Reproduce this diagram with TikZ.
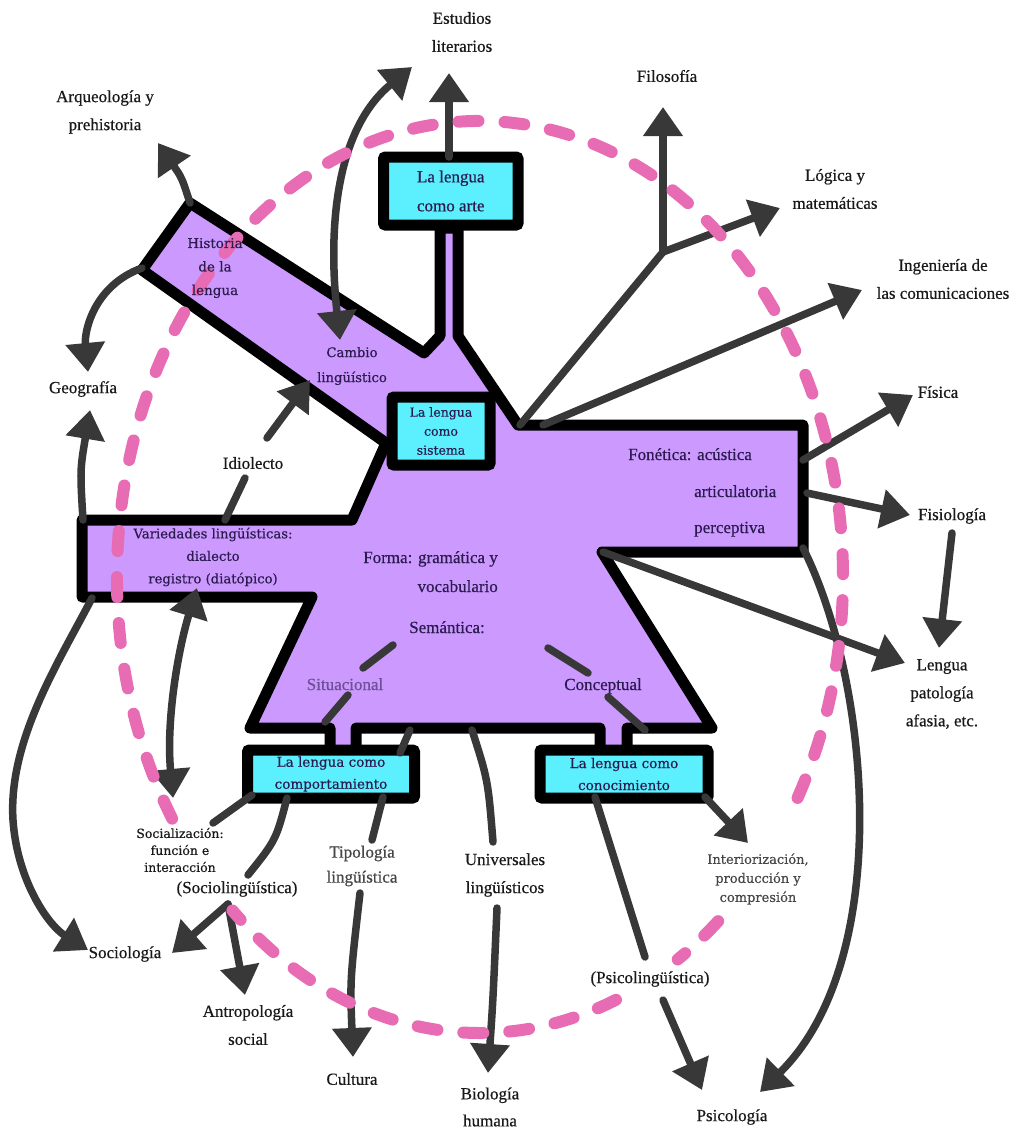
\documentclass[tikz,border=0pt]{standalone}
\usepackage{fontspec}
\setmainfont{Liberation Serif}[FakeBold=0.5]
\newfontfamily\widefont{DejaVu Serif}[FakeBold=0.4]
\usetikzlibrary{arrows.meta}
\definecolor{lilac}{RGB}{204,153,255}
\definecolor{boxcyan}{RGB}{92,240,255}
\definecolor{linegray}{RGB}{56,56,56}
\definecolor{pinkc}{RGB}{232,108,180}
\definecolor{navy}{RGB}{43,27,79}
\definecolor{situ}{RGB}{110,80,150}
\definecolor{txtgray}{RGB}{70,70,70}
\definecolor{txtblack}{RGB}{25,25,25}
\begin{document}
\begin{tikzpicture}[x=1pt,y=-1pt,
  font=\fontsize{17}{28}\selectfont,
  conn/.style={draw=linegray, line width=7.5pt, line cap=round},
  arr/.style={conn, -{Triangle[width=38pt,length=29pt]}},
  arrboth/.style={conn, {Triangle[width=38pt,length=29pt]}-{Triangle[width=38pt,length=29pt]}},
  mainshape/.style={fill=lilac, draw=black, line width=11pt, line join=round},
  box/.style={draw=black, fill=boxcyan, line width=11pt, rounded corners=2pt, inner sep=0pt, align=center, text=navy},
  lab/.style={align=center, inner sep=0pt, text=txtblack},
  inlab/.style={align=center, inner sep=0pt, text=navy},
  smallwide/.style={align=center, inner sep=0pt, font=\widefont\fontsize{12.5}{17}\selectfont},
  pinkdash/.style={draw=pinkc, line width=12pt, line cap=round, dash pattern=on 20pt off 26pt}
]
\fill[white] (0,0) rectangle (1012,1128);
\useasboundingbox (0,0) rectangle (1012,1128);

% ---------- main shape ----------
\draw[mainshape] (440,228) -- (440,336) -- (424,353) -- (190,203) -- (142,270) -- (386,443)
  -- (352,520) -- (82,520) -- (82,597) -- (312,597) -- (250,728) -- (330,728) -- (330,752)
  -- (356,752) -- (356,728) -- (600,728) -- (600,752) -- (627,752) -- (627,728) -- (712,728)
  -- (602,552) -- (803,552) -- (803,425) -- (518,425) -- (458,336) -- (458,228) -- cycle;

% ---------- boxes ----------
\node[box, minimum width=134.5pt, minimum height=68pt, font=\fontsize{17}{29}\selectfont] (arte) at (450.75,191) {La lengua\\como arte};
\node[box, minimum width=98pt, minimum height=68pt, font=\widefont\fontsize{12.5}{19}\selectfont] (sist) at (441,431) {La lengua\\como\\sistema};
\node[box, minimum width=167pt, minimum height=48pt, font=\widefont\fontsize{13.5}{22}\selectfont] (comp) at (331,774) {La lengua como\\comportamiento};
\node[box, minimum width=168pt, minimum height=48pt, font=\widefont\fontsize{13.5}{22}\selectfont] (conoc) at (624,774) {La lengua como\\conocimiento};

% ---------- coordinates ----------
\coordinate (arteTop) at (449,157);
\coordinate (estT) at (449,73);
\coordinate (camA) at (340,340);
\coordinate (camB) at (412,67);
\coordinate (histTop) at (190,203);
\coordinate (arqT) at (158,143);
\coordinate (histLeft) at (142,268);
\coordinate (geoT1) at (88,372);
\coordinate (varTL) at (83,520);
\coordinate (geoT2) at (90,410);
\coordinate (idioA) at (225,520);
\coordinate (idioB) at (245,478);
\coordinate (idioC) at (267,438);
\coordinate (camT) at (310,380);
\coordinate (varBL) at (92,598);
\coordinate (socMid) at (13,820);
\coordinate (socT) at (88,950);
\coordinate (varB) at (197,588);
\coordinate (socA) at (173,798);
\coordinate (compSoc) at (252,795);
\coordinate (socB) at (213,823);
\coordinate (compSL) at (287,798);
\coordinate (slA) at (248,875);
\coordinate (slB) at (228,904);
\coordinate (sociolT) at (172,953);
\coordinate (antroT) at (245,995);
\coordinate (compTip) at (383,797);
\coordinate (tipA) at (372,840);
\coordinate (tipB) at (360,893);
\coordinate (culT) at (353,1057);
\coordinate (stubA) at (410,730);
\coordinate (stubB) at (400,753);
\coordinate (uniA) at (472,730);
\coordinate (uniB) at (493,842);
\coordinate (uniC) at (497,908);
\coordinate (bioT) at (488,1073);
\coordinate (conA) at (595,797);
\coordinate (psA) at (645,957);
\coordinate (psB) at (663,1000);
\coordinate (psicoT1) at (702,1090);
\coordinate (conB) at (705,797);
\coordinate (intT) at (748,843);
\coordinate (fonBR) at (803,548);
\coordinate (psicoT2) at (760,1092);
\coordinate (fonCorner) at (603,552);
\coordinate (lenT) at (905,663);
\coordinate (fisioB) at (952,533);
\coordinate (lenT2) at (939,648);
\coordinate (fonR2) at (807,493);
\coordinate (fisioT) at (910,515);
\coordinate (fonR1) at (803,460);
\coordinate (fisT) at (913,395);
\coordinate (junc) at (520,425);
\coordinate (branch) at (663,252);
\coordinate (filoT) at (663,107);
\coordinate (logT) at (780,208);
\coordinate (ingA) at (543,425);
\coordinate (ingT) at (862,290);
\coordinate (s1a) at (393,645);
\coordinate (s1b) at (363,668);
\coordinate (s2a) at (348,695);
\coordinate (s2b) at (325,722);
\coordinate (s3a) at (548,648);
\coordinate (s3b) at (588,673);
\coordinate (s4a) at (608,697);
\coordinate (s4b) at (645,730);

% ---------- connectors ----------
\draw[arr] (arteTop) -- (estT);
\draw[arrboth] (camA) .. controls (328,230) and (335,130) .. (camB);
\draw[arr] (histTop) .. controls (182,178) .. (arqT);
\draw[arr] (histLeft) .. controls (95,285) and (84,330) .. (geoT1);
\draw[arr] (varTL) .. controls (80,470) .. (geoT2);
\draw[conn] (idioA) -- (idioB);
\draw[arr] (idioC) -- (camT);
\draw[arr] (varBL) .. controls (60,660) and (8,740) .. (socMid) .. controls (17,880) and (48,925) .. (socT);
\draw[arrboth] (varB) .. controls (178,650) and (166,720) .. (socA);
\draw[conn] (compSoc) -- (socB);
\draw[conn] (compSL) .. controls (276,840) .. (slA);
\draw[arr] (slB) -- (sociolT);
\draw[arr] (slB) -- (antroT);
\draw[conn] (compTip) -- (tipA);
\draw[arr] (tipB) .. controls (350,980) .. (culT);
\draw[conn] (stubA) -- (stubB);
\draw[conn] (uniA) .. controls (488,780) .. (uniB);
\draw[arr] (uniC) .. controls (493,1000) .. (bioT);
\draw[conn] (conA) -- (psA);
\draw[arr] (psB) -- (psicoT1);
\draw[arr] (conB) -- (intT);
\draw[arr] (fonBR) .. controls (870,680) and (895,960) .. (psicoT2);
\draw[arr] (fonCorner) -- (lenT);
\draw[arr] (fisioB) -- (lenT2);
\draw[arr] (fonR2) -- (fisioT);
\draw[arr] (fonR1) -- (fisT);
\draw[conn] (junc) -- (branch);
\draw[arr] (branch) -- (filoT);
\draw[arr] (branch) -- (logT);
\draw[arr] (ingA) -- (ingT);
\draw[conn] (s1a) -- (s1b);
\draw[conn] (s2a) -- (s2b);
\draw[conn] (s3a) -- (s3b);
\draw[conn] (s4a) -- (s4b);

% ---------- dashed pink circle ----------
\coordinate (EC) at (480,577);
\draw[pinkdash] (EC) ++(148:363 and 456) arc[start angle=148, end angle=392, x radius=363, y radius=456];
\draw[pinkdash] (EC) ++(49:363 and 456) arc[start angle=49, end angle=57, x radius=363, y radius=456];
\draw[pinkdash] (EC) ++(68:363 and 456) arc[start angle=68, end angle=133, x radius=363, y radius=456];

% ---------- labels ----------
\node[lab] (estudios) at (462,32) {Estudios\\literarios};
\node[lab] (arqueo) at (105,112) {Arqueología y\\prehistoria};
\node[lab] (filo) at (667,76) {Filosofía};
\node[lab] (logica) at (835,189) {Lógica y\\matemáticas};
\node[lab] (inge) at (943,279) {Ingeniería de\\las comunicaciones};
\node[lab] (geo) at (83,389) {Geografía};
\node[lab] (fisica) at (938,392) {Física};
\node[lab] (fisio) at (952,516) {Fisiología};
\node[lab] (lengua) at (942,694) {Lengua\\patología\\afasia, etc.};
\node[lab] (idio) at (253,463) {Idiolecto};
\node[lab] (socioling) at (237,889) {(Sociolingüística)};
\node[lab] (sociol) at (125,954) {Sociología};
\node[lab] (antro) at (248,1025) {Antropología\\social};
\node[lab, text=txtgray, font=\fontsize{17}{25}\selectfont] (tipo) at (362,866) {Tipología\\lingüística};
\node[lab] (cultura) at (352,1079) {Cultura};
\node[lab] (univ) at (505,875) {Universales\\lingüísticos};
\node[lab, font=\fontsize{17}{27}\selectfont] (bio) at (490,1107) {Biología\\humana};
\node[lab] (psicoling) at (650,979) {(Psicolingüística)};
\node[lab] (psico) at (732,1117) {Psicología};
\node[smallwide, text=txtblack] (social) at (180,850) {Socialización:\\función e\\interacción};
\node[smallwide, text=txtgray, font=\widefont\fontsize{13}{19}\selectfont] (interio) at (758,879) {Interiorización,\\producción y\\compresión};

% labels inside the shape
\node[inlab, font=\widefont\fontsize{13.5}{23.5}\selectfont] (hist) at (215,268) {Historia\\de la\\lengua};
\node[inlab, font=\widefont\fontsize{13.2}{25}\selectfont] (cambio) at (352,366) {Cambio\\lingüístico};
\node[inlab, font=\widefont\fontsize{13.2}{22.5}\selectfont] (varied) at (213,557) {Variedades lingüísticas:\\dialecto\\registro (diatópico)};
\node[inlab, anchor=base east] (forma1) at (498,563) {Forma: gramática y};
\node[inlab, anchor=base east] (forma2) at (498,592) {vocabulario};
\node[inlab, anchor=base] (seman) at (447,633) {Semántica:};
\node[inlab, anchor=base, text=situ] (situ) at (345,690) {Situacional};
\node[inlab, anchor=base] (concep) at (603,690) {Conceptual};
\node[inlab, anchor=base west] (fon1) at (628,460) {Fonética: acústica};
\node[inlab, anchor=base west] (fon2) at (694,497) {articulatoria};
\node[inlab, anchor=base west] (fon3) at (694,533) {perceptiva};
\end{tikzpicture}
\end{document}
